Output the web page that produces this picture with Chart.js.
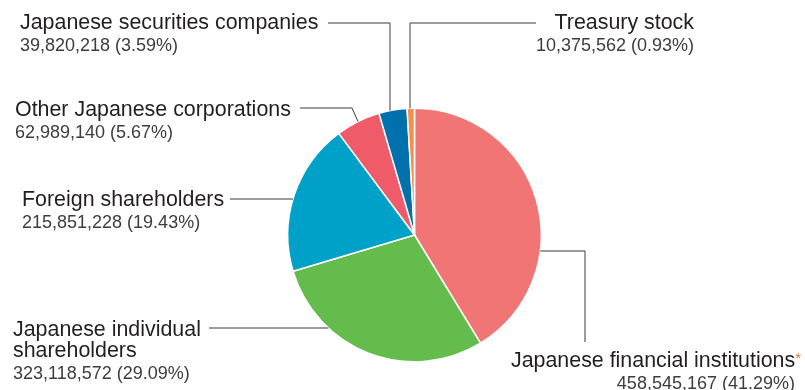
<!DOCTYPE html>
<html lang="en">
  <head>
    <meta charset="UTF-8" />
    <title>Shareholder Composition</title>
    <script src="https://cdn.jsdelivr.net/npm/chart.js"></script>
    <style>
      html, body { margin: 0; padding: 0; background: #fff; }
      #wrap { width: 805px; height: 390px; position: relative; }
    </style>
  </head>
  <body>
    <div id="wrap"><canvas id="shareChart"></canvas></div>

    <script>
      // Shareholders by type, clockwise from 12 o'clock
      const categories = [
        "Japanese financial institutions",
        "Japanese individual shareholders",
        "Foreign shareholders",
        "Other Japanese corporations",
        "Japanese securities companies",
        "Treasury stock",
      ];
      const shares = [458545167, 323118572, 215851228, 62989140, 39820218, 10375562];
      const percents = [41.29, 29.09, 19.43, 5.67, 3.59, 0.93];
      const sliceColors = ["#f17575", "#64bc4c", "#00a1c9", "#ef5b69", "#0071ad", "#f78f4b"];

      // Where each label sits and how its leader line runs to the pie
      const labelLayout = [
        { lines: ["Japanese financial institutions"], star: true, x: 795, align: "right", y: 367,
          leader: { edgeY: 251, side: 1, path: [[585, 251], [585, 342]] } },
        { lines: ["Japanese individual", "shareholders"], x: 13, align: "left", y: 336,
          leader: { edgeY: 328, side: -1, path: [[209, 328]] } },
        { lines: ["Foreign shareholders"], x: 22, align: "left", y: 206,
          leader: { edgeY: 199, side: -1, path: [[230, 199]] } },
        { lines: ["Other Japanese corporations"], x: 15, align: "left", y: 116,
          leader: { mid: true, path: [[300, 108], [352, 108]] } },
        { lines: ["Japanese securities companies"], x: 20, align: "left", y: 29,
          leader: { edgeX: 390, path: [[328, 23], [390, 23]] } },
        { lines: ["Treasury stock"], x: 694, align: "right", y: 29,
          leader: { edgeX: 410, path: [[536, 23], [410, 23]] } },
      ];

      const titleFont = '21.4px "Liberation Sans", Arial, sans-serif';
      const valueFont = '18px "Liberation Sans", Arial, sans-serif';

      const fmt = (n) => n.toLocaleString("en-US");

      const calloutPlugin = {
        id: "callouts",
        afterDatasetsDraw(chart) {
          const ctx = chart.ctx;
          const arcs = chart.getDatasetMeta(0).data;
          ctx.save();

          labelLayout.forEach((lab, i) => {
            const arc = arcs[i];
            const { x: cx, y: cy, outerRadius: r, startAngle, endAngle } =
              arc.getProps(["x", "y", "outerRadius", "startAngle", "endAngle"], true);

            // leader line end point on the rim
            const L = lab.leader;
            let end;
            if (L.edgeY !== undefined) {
              const dy = L.edgeY - cy;
              end = [cx + L.side * Math.sqrt(r * r - dy * dy), L.edgeY];
            } else if (L.edgeX !== undefined) {
              const dx = L.edgeX - cx;
              end = [L.edgeX, cy - Math.sqrt(r * r - dx * dx)];
            } else {
              const a = (startAngle + endAngle) / 2;
              end = [cx + r * Math.cos(a), cy + r * Math.sin(a)];
            }
            const pts = L.edgeY !== undefined && L.side === 1 ? [end, ...L.path] : [...L.path, end];
            ctx.beginPath();
            ctx.strokeStyle = "#3a3a3a";
            ctx.lineWidth = 1;
            pts.forEach((p, k) => (k ? ctx.lineTo(p[0], p[1]) : ctx.moveTo(p[0], p[1])));
            ctx.stroke();

            // title lines, then the value line
            ctx.textAlign = lab.align;
            ctx.textBaseline = "alphabetic";
            let y = lab.y;
            ctx.font = titleFont;
            ctx.fillStyle = "#231f20";
            lab.lines.forEach((t, k) => {
              let tx = lab.x;
              if (lab.star && k === lab.lines.length - 1) {
                // orange asterisk after the title
                ctx.font = '15px "Liberation Sans", Arial, sans-serif';
                const sw = ctx.measureText("*").width;
                ctx.fillStyle = "#d9772f";
                ctx.fillText("*", lab.x + 6, y - 4);
                ctx.font = titleFont;
                ctx.fillStyle = "#231f20";
                tx = lab.x + 6 - sw;
              }
              ctx.fillText(t, tx, y);
              y += 21;
            });
            y += 1;
            ctx.font = valueFont;
            ctx.fillStyle = "#3d3d3d";
            ctx.fillText(`${fmt(shares[i])} (${percents[i].toFixed(2)}%)`, lab.x, y);
          });
          ctx.restore();
        },
      };

      new Chart(document.getElementById("shareChart"), {
        type: "pie",
        data: {
          labels: categories,
          datasets: [
            {
              data: shares,
              backgroundColor: sliceColors,
              borderColor: "#ffffff",
              borderWidth: 1.5,
            },
          ],
        },
        options: {
          responsive: true,
          maintainAspectRatio: false,
          animation: false,
          layout: { padding: { left: 287, right: 263, top: 107, bottom: 27 } },
          plugins: {
            legend: { display: false },
            tooltip: { enabled: false },
          },
        },
        plugins: [calloutPlugin],
      });
    </script>
  </body>
</html>
